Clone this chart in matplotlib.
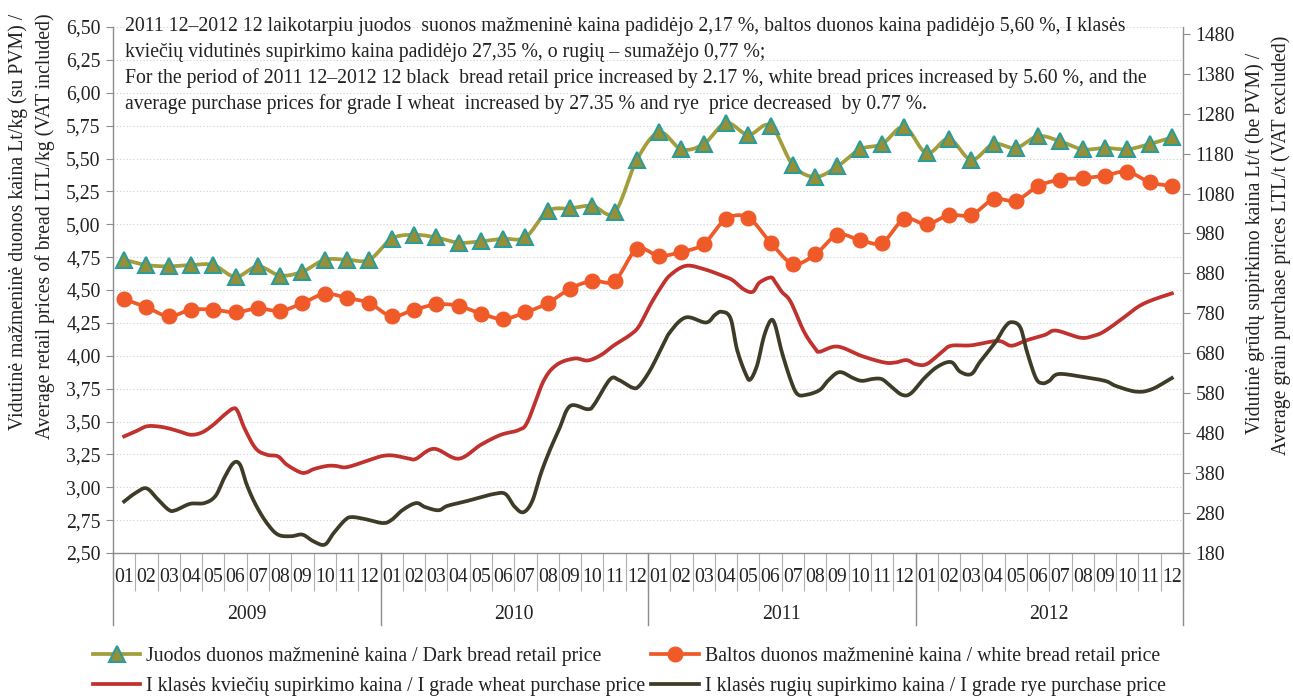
import numpy as np
import matplotlib
matplotlib.use("Agg")
import matplotlib.pyplot as plt
from matplotlib.lines import Line2D

plt.rcParams['font.family'] = ['Liberation Serif', 'DejaVu Serif']

# monthly bread prices, 2009-01 .. 2012-12 (Lt/kg)
years = ["2009", "2010", "2011", "2012"]
months = ["01", "02", "03", "04", "05", "06", "07", "08", "09", "10", "11", "12"]
dark_bread = [4.73, 4.69, 4.68, 4.69, 4.69, 4.60, 4.68, 4.61, 4.64, 4.73, 4.73, 4.73,
              4.89, 4.92, 4.90, 4.86, 4.87, 4.89, 4.90, 5.10, 5.12, 5.14, 5.09, 5.49,
              5.70, 5.57, 5.61, 5.77, 5.68, 5.75, 5.45, 5.36, 5.44, 5.57, 5.61, 5.74,
              5.54, 5.65, 5.49, 5.61, 5.58, 5.67, 5.63, 5.57, 5.58, 5.57, 5.61, 5.66]
white_bread = [4.43, 4.37, 4.30, 4.35, 4.35, 4.33, 4.36, 4.34, 4.40, 4.47, 4.44, 4.40,
               4.30, 4.35, 4.39, 4.38, 4.32, 4.28, 4.33, 4.40, 4.51, 4.57, 4.57, 4.81,
               4.76, 4.79, 4.85, 5.04, 5.05, 4.86, 4.70, 4.77, 4.92, 4.88, 4.86, 5.04,
               5.00, 5.07, 5.07, 5.19, 5.18, 5.29, 5.34, 5.35, 5.37, 5.40, 5.32, 5.29]

# grain purchase prices (Lt/t), time in months from 2009-01
wheat_t = [0, 0.5, 1.0, 1.5, 2.0, 2.5, 3.0, 3.5, 4.0, 4.5, 4.9, 5.1, 5.4, 5.9, 6.4, 6.9,
           7.3, 7.9, 8.2, 8.5, 9.1, 9.5, 10.0, 11.0, 11.6, 12.1, 12.8, 13.1, 13.9, 15.0,
           16.0, 16.9, 17.7, 18.1, 18.8, 19.4, 20.2, 20.8, 21.4, 22.0, 22.7, 23.1, 23.6,
           24.1, 24.5, 25.2, 26.0, 26.9, 27.3, 27.8, 28.2, 28.5, 29.0, 29.2, 29.5, 29.9,
           30.5, 31.0, 31.2, 32.0, 33.1, 34.1, 34.6, 35.1, 35.5, 36.0, 36.7, 37.1, 38.0,
           39.2, 39.8, 40.5, 41.3, 41.8, 42.9, 43.5, 44.0, 44.9, 45.5, 46.1, 47.0]
wheat_v = [472, 484, 497, 497, 492, 484, 476, 482, 501, 526, 542, 534, 492, 442, 426, 422,
           401, 382, 382, 390, 398, 398, 395, 413, 423, 424, 416, 416, 441, 416,
           451, 476, 488, 509, 609, 651, 667, 662, 676, 701, 726, 748, 801,
           847, 876, 899, 891, 873, 863, 840, 834, 857, 870, 859, 834, 809,
           734, 692, 684, 697, 673, 657, 657, 663, 653, 653, 684, 699, 700,
           711, 699, 713, 726, 737, 719, 724, 736, 772, 797, 813, 830]
rye_t = [0, 0.5, 1.0, 1.5, 2.0, 2.3, 2.95, 3.6, 4.1, 4.5, 4.9, 5.2, 5.5, 5.9, 6.4, 6.9,
         7.5, 8.0, 8.5, 9.0, 9.4, 9.9, 10.2, 10.8, 11.6, 12.0, 12.5, 13.1, 13.5, 14.1,
         14.5, 15.3, 15.9, 16.6, 17.1, 17.5, 17.9, 18.3, 18.7, 19.1, 19.5, 20.0, 20.8,
         21.1, 21.8, 22.2, 22.8, 23.1, 23.6, 24.1, 24.5, 25.2, 26.1, 26.5, 26.8, 27.2,
         27.5, 27.9, 28.1, 28.4, 28.7, 29.0, 29.2, 29.5, 29.9, 30.2, 30.6, 31.2, 31.6,
         32.1, 32.7, 33.1, 33.6, 34.0, 34.4, 34.9, 35.3, 35.9, 36.5, 37.1, 37.5, 38.0,
         38.4, 39.1, 39.5, 39.8, 40.2, 40.5, 40.9, 41.2, 41.5, 41.9, 42.9, 44.0, 44.5,
         45.4, 46.1, 47.0]
rye_v = [309, 330, 342, 315, 288, 287, 303, 305, 323, 369, 405, 401, 351, 301, 255, 226,
         222, 226, 209, 201, 230, 262, 270, 265, 255, 263, 288, 305, 295, 287,
         298, 309, 318, 328, 328, 297, 282, 309, 380, 438, 488, 548, 540,
         553, 615, 613, 594, 598, 638, 693, 734, 770, 757, 776, 784, 768,
         688, 626, 615, 651, 722, 762, 751, 684, 613, 578, 576, 588, 613,
         633, 618, 611, 616, 615, 597, 576, 580, 618, 647, 658, 634, 628,
         659, 709, 745, 758, 745, 684, 618, 605, 611, 628, 622, 611, 598,
         584, 590, 618]

labels = ["Juodos duonos mažmeninė kaina / Dark bread retail price",
          "Baltos duonos mažmeninė kaina / white bread retail price",
          "I klasės kviečių supirkimo kaina / I grade wheat purchase price",
          "I klasės rugių supirkimo kaina / I grade rye purchase price"]

note = ["2011 12\u20132012 12 laikotarpiu juodos  suonos mažmeninė kaina padidėjo 2,17 %, baltos duonos kaina padidėjo 5,60 %, I klasės",
        "kviečių vidutinės supirkimo kaina padidėjo 27,35 %, o rugių \u2013 sumažėjo 0,77 %;",
        "For the period of 2011 12\u20132012 12 black  bread retail price increased by 2.17 %, white bread prices increased by 5.60 %, and the",
        "average purchase prices for grade I wheat  increased by 27.35 % and rye  price decreased  by 0.77 %."]

c_dark = '#A39D3C'
c_tri = '#958F38'
c_teal = '#2A9C9A'
c_white = '#F05A28'
c_wheat = '#C1312E'
c_rye = '#3E3C27'
grey = '#8C8C8C'
txt = '#222222'
fs = 14.2


def smooth(x, y, n=14):
    # excel-like smoothed line (catmull-rom)
    x = np.asarray(x, float)
    y = np.asarray(y, float)
    px = np.concatenate([[2 * x[0] - x[1]], x, [2 * x[-1] - x[-2]]])
    py = np.concatenate([[2 * y[0] - y[1]], y, [2 * y[-1] - y[-2]]])
    t = np.linspace(0, 1, n, endpoint=False)
    ox, oy = [], []
    for i in range(1, len(px) - 2):
        for p, o in ((px, ox), (py, oy)):
            p0, p1, p2, p3 = p[i - 1], p[i], p[i + 1], p[i + 2]
            o.extend(0.5 * (2 * p1 + (p2 - p0) * t + (2 * p0 - 5 * p1 + 4 * p2 - p3) * t ** 2
                            + (3 * p1 - p0 - 3 * p2 + p3) * t ** 3))
    ox.append(x[-1])
    oy.append(y[-1])
    return ox, oy


W, H = 1293, 697
fig = plt.figure(figsize=(W / 100, H / 100), dpi=100)
ax = fig.add_axes([113 / W, 1 - 553 / H, 1070 / W, 526 / H])
ax2 = ax.twinx()

x = np.arange(len(dark_bread))

ax.plot(*smooth(x, dark_bread), color=c_dark, lw=2.7, zorder=3)
ax.plot(x, dark_bread, ls='none', marker='^', ms=11.5, mfc=c_tri, mec=c_teal, mew=1.5, zorder=4)
ax.plot(*smooth(x, white_bread), color=c_white, lw=2.7, zorder=3)
ax.plot(x, white_bread, ls='none', marker='o', ms=10.5, mfc=c_white, mec=c_white, zorder=4)

ax2.plot(*smooth(wheat_t, wheat_v, 8), color=c_wheat, lw=2.7)
ax2.plot(*smooth(rye_t, rye_v, 8), color=c_rye, lw=2.7)

# left axis
ax.set_ylim(2.5, 6.5)
yt = np.arange(2.5, 6.51, 0.25)
ax.set_yticks(yt)
ax.set_yticklabels([f"{v:.2f}".replace('.', ',') for v in yt])
ax.yaxis.grid(True, color='#CFCFCF', ls=(0, (1, 2)), lw=0.8)
ax.set_axisbelow(True)

# right axis
ax2.set_ylim(180, 1497)
ax2.set_yticks(np.arange(180, 1481, 100))

for a in (ax, ax2):
    for s in a.spines.values():
        s.set_visible(False)
    a.tick_params(axis='y', direction='out', length=5, color=grey, labelsize=fs,
                  labelcolor=txt, pad=4)
ax.spines['left'].set_visible(True)
ax.spines['bottom'].set_visible(True)
ax2.spines['right'].set_visible(True)
for s in (ax.spines['left'], ax.spines['bottom'], ax2.spines['right']):
    s.set_color(grey)
    s.set_linewidth(1)

# category x axis: months, then years
ax.set_xlim(-0.5, len(x) - 0.5)
ax.set_xticks(x)
ax.set_xticklabels(months * len(years))
ax.set_xticks(np.arange(-0.5, len(x)), minor=True)
ax.tick_params(axis='x', which='major', length=0, pad=11, labelsize=fs, labelcolor=txt)
ax.tick_params(axis='x', which='minor', length=27, width=0.8, color='#B0B0B0')
tr = ax.get_xaxis_transform()
for k, yr in enumerate(years):
    ax.text(12 * k + 5.5, -0.117, yr, transform=tr, ha='center', va='center',
            fontsize=fs, color=txt)
for k in range(len(years) + 1):
    ax.plot([12 * k - 0.5] * 2, [0, -0.137], transform=tr, clip_on=False,
            color=grey, lw=1)

# axis titles
fig.text(18 / W, 1 - 222 / H, "Vidutinė mažmeninė duonos kaina Lt/kg (su PVM) /",
         rotation=90, ha='center', va='center', fontsize=fs, color=txt)
fig.text(45 / W, 1 - 226 / H, "Average retail prices of bread LTL/kg (VAT included)",
         rotation=90, ha='center', va='center', fontsize=fs, color=txt)
fig.text(1255 / W, 1 - 243 / H, "Vidutinė grūdų supirkimo kaina Lt/t (be PVM) /",
         rotation=90, ha='center', va='center', fontsize=fs, color=txt)
fig.text(1281 / W, 1 - 245 / H, "Average grain purchase prices LTL/t (VAT excluded)",
         rotation=90, ha='center', va='center', fontsize=fs, color=txt)

# note text
for i, line in enumerate(note):
    fig.text(125 / W, 1 - (26 + 26 * i) / H, line, ha='left', va='center',
             fontsize=fs, color=txt)

# legend
handles = [Line2D([], [], color=c_dark, lw=2.7, marker='^', ms=11.5, mfc=c_tri, mec=c_teal, mew=1.5),
           Line2D([], [], color=c_wheat, lw=2.7),
           Line2D([], [], color=c_white, lw=2.7, marker='o', ms=10.5, mfc=c_white, mec=c_white),
           Line2D([], [], color=c_rye, lw=2.7)]
fig.legend(handles, [labels[0], labels[2], labels[1], labels[3]], ncol=2,
           loc='upper left', bbox_to_anchor=(93 / W, 1 - 647 / H), frameon=False,
           fontsize=fs, handlelength=2.4, handletextpad=0.3, columnspacing=0.3,
           labelspacing=0.55, borderpad=0, borderaxespad=0, labelcolor=txt)

fig.savefig('out.png', dpi=100)
